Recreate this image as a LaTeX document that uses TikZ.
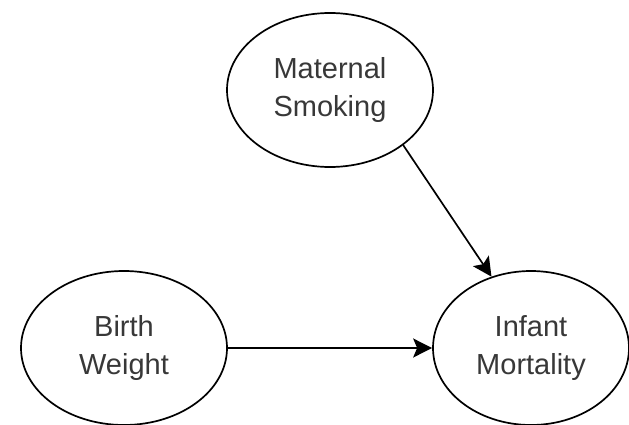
\documentclass[tikz,border=0pt]{standalone}
\usepackage{fontspec}
\setmainfont{Liberation Sans}
\usetikzlibrary{shapes.geometric,arrows.meta}
\begin{document}
\begin{tikzpicture}[x=1pt,y=-1pt,
  var/.style={ellipse,draw=black,line width=1.7pt,fill=white,
    minimum width=#1,minimum height=154pt,inner sep=0pt,
    align=center,text=black!78,font=\fontsize{29}{38}\selectfont},
  var/.default=204pt,
  link/.style={line width=1.7pt,-{Stealth[length=19pt,width=19pt,inset=4pt]}}]
  \useasboundingbox (0,0) rectangle (629,425);
  \node[var=206pt] (ms) at (330,90) {Maternal\\Smoking};
  \node[var=206pt] (bw) at (124,348) {Birth\\Weight};
  \node[var=196pt] (im) at (531,348) {Infant\\Mortality};
  \draw[link] (ms.-37) -- (im.119);
  \draw[link] (bw) -- (im);
\end{tikzpicture}
\end{document}
